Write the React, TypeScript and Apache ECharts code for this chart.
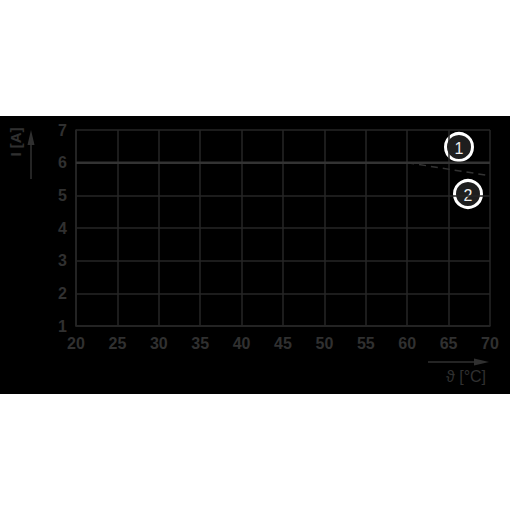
import { useEffect, useRef } from "react";
import * as echarts from "echarts";

const xMin = 20;
const xMax = 70;
const xStep = 5;
const yMin = 1;
const yMax = 7;
const yStep = 1;

// curve 1: constant current
const curve1: [number, number][] = [
  [20, 6],
  [70, 6],
];
// curve 2: derating above 60 °C
const curve2: [number, number][] = [
  [60, 6],
  [70, 5.6],
];

const yTitle = "I [A]";
const xTitle = "ϑ [°C]";

const gridColor = "#262626";
const textColor = "#303030";
const font = "Liberation Sans, Arial, sans-serif";

function badge(label: string, x: number, y: number) {
  return {
    type: "group",
    x,
    y,
    children: [
      {
        type: "circle",
        shape: { cx: 0, cy: 0, r: 13.5 },
        style: { fill: "#1e1e1e", stroke: "#ffffff", lineWidth: 3 },
      },
      {
        type: "text",
        x: 0,
        y: 1,
        style: {
          text: label,
          fill: "#ececec",
          font: `16px ${font}`,
          align: "center",
          verticalAlign: "middle",
        },
      },
    ],
  };
}

export default function App() {
  const ref = useRef<HTMLDivElement | null>(null);

  useEffect(() => {
    if (!ref.current) return;
    const chart = echarts.init(ref.current, undefined, { renderer: "svg" });

    const axisLabel = {
      color: textColor,
      fontSize: 16,
      fontWeight: "bold",
      fontFamily: font,
    };

    chart.setOption({
      animation: false,
      backgroundColor: "#ffffff",
      grid: { left: 76, right: 20, top: 130, bottom: 184 },
      xAxis: {
        type: "value",
        min: xMin,
        max: xMax,
        interval: xStep,
        axisLine: { show: true, lineStyle: { color: gridColor, width: 1.5 } },
        axisTick: { show: false },
        splitLine: { show: true, lineStyle: { color: gridColor, width: 1.5 } },
        axisLabel: { ...axisLabel, margin: 9 },
      },
      yAxis: {
        type: "value",
        min: yMin,
        max: yMax,
        interval: yStep,
        axisLine: { show: true, lineStyle: { color: gridColor, width: 1.5 } },
        axisTick: { show: false },
        splitLine: { show: true, lineStyle: { color: gridColor, width: 1.5 } },
        axisLabel: { ...axisLabel, margin: 9 },
      },
      graphic: [
        {
          type: "rect",
          z: -10,
          silent: true,
          shape: { x: 0, y: 116, width: 510, height: 278 },
          style: { fill: "#000000" },
        },
        // y axis arrow + title
        {
          type: "line",
          shape: { x1: 31, y1: 179, x2: 31, y2: 140 },
          style: { stroke: textColor, lineWidth: 1.5 },
        },
        {
          type: "polygon",
          shape: { points: [[27.5, 145], [34.5, 145], [31, 130]] },
          style: { fill: textColor },
        },
        {
          type: "text",
          x: 15,
          y: 142,
          rotation: Math.PI / 2,
          style: {
            text: yTitle,
            fill: textColor,
            font: `bold 15px ${font}`,
            align: "center",
            verticalAlign: "middle",
          },
        },
        // x axis arrow + title
        {
          type: "line",
          shape: { x1: 428, y1: 362, x2: 476, y2: 362 },
          style: { stroke: textColor, lineWidth: 1.5 },
        },
        {
          type: "polygon",
          shape: { points: [[474, 358.5], [474, 365.5], [489, 362]] },
          style: { fill: textColor },
        },
        {
          type: "text",
          x: 466,
          y: 376,
          style: {
            text: xTitle,
            fill: textColor,
            font: `16px ${font}`,
            align: "center",
            verticalAlign: "middle",
          },
        },
        badge("1", 459, 147),
        badge("2", 468, 194),
      ],
      series: [
        {
          type: "line",
          data: curve1,
          symbol: "none",
          lineStyle: { color: "#333333", width: 2.5 },
        },
        {
          type: "line",
          data: curve2,
          symbol: "none",
          lineStyle: { color: "#333333", width: 1.5, type: [7, 5] },
        },
      ],
    });

    return () => {
      chart.dispose();
    };
  }, []);

  return (
    <div
      ref={ref}
      style={{ position: "fixed", left: 0, top: 0, width: 510, height: 510 }}
    />
  );
}
